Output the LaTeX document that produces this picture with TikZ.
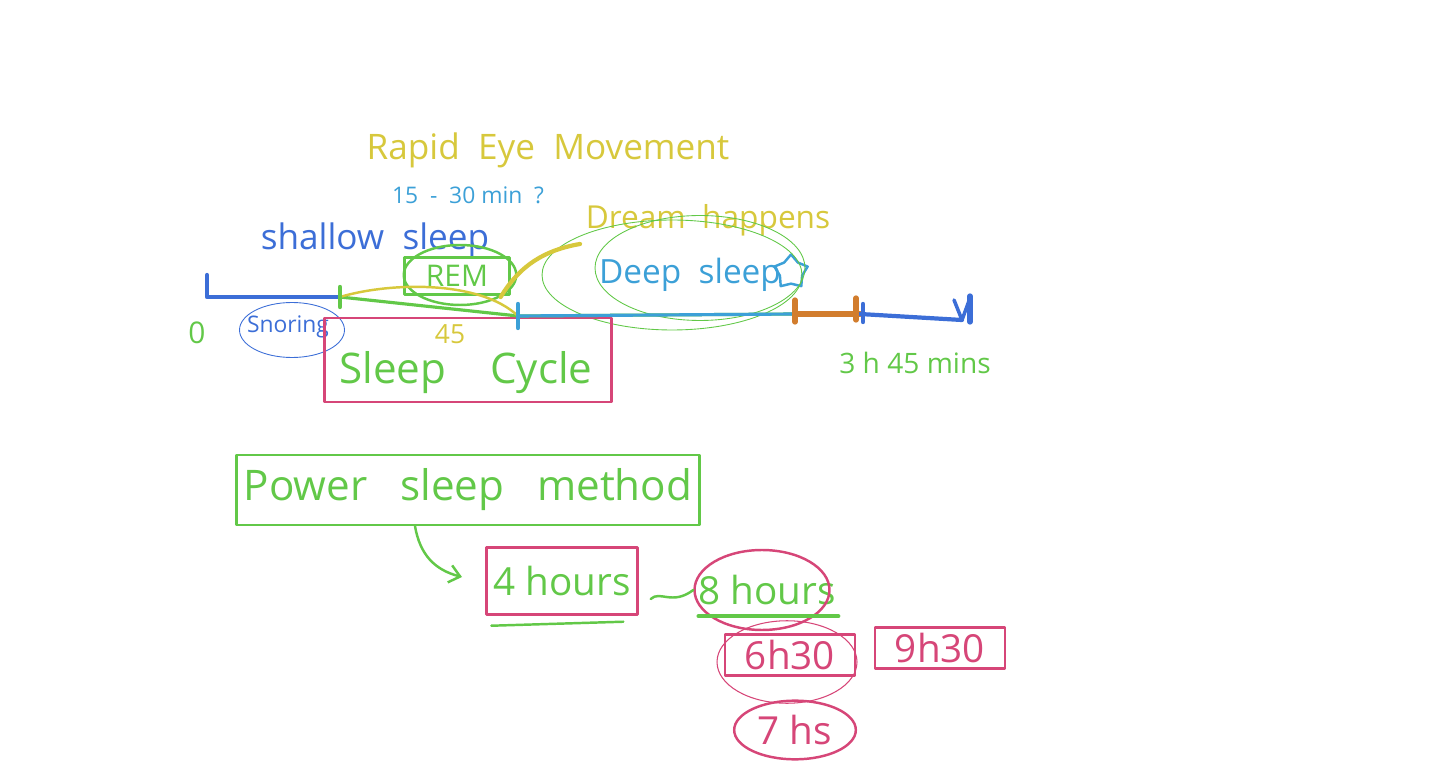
\documentclass[tikz,border=0pt]{standalone}
\usepackage{fontspec}
\setmainfont{Open Sans}
\usepackage{tikz}
\usetikzlibrary{positioning, shapes.geometric, arrows.meta}

\definecolor{penGreen}{RGB}{98,200,72}
\definecolor{penBlue}{RGB}{60,110,215}
\definecolor{penCyan}{RGB}{60,160,215}
\definecolor{penYellow}{RGB}{215,200,60}
\definecolor{penPink}{RGB}{214,70,120}
\definecolor{penOrange}{RGB}{210,125,45}

\newcommand{\pen}[1]{\fontsize{#1}{#1}\selectfont}

\tikzset{
  ink/.style={line width=1.4pt, line cap=round, line join=round},
  box/.style={draw, rectangle, ink},
  ring/.style={draw, ellipse, line width=0.5pt},
}

\begin{document}
\begin{tikzpicture}[x=0.02cm, y=-0.02cm]
            \useasboundingbox (0,0) rectangle (1440,783);

            % points on the time line
            \coordinate (T0) at (207,297);
            \coordinate (T1) at (340,297);
            \coordinate (T2) at (518,316);
            \coordinate (T3) at (795,314);
            \coordinate (T4) at (860,314);
            \coordinate (T5) at (962,320);

            \node (rapid) [text=penYellow] at (548,150) {\pen{20}Rapid\ \ Eye\ \ Movement};
            \node (min) [text=penCyan] at (468,195) {\pen{13}15\ \ -\ \ 30\ min\ \ ?};
            \node (shallow) [text=penBlue] at (375,240) {\pen{20}shallow\ \ sleep};
            \node (dream) [text=penYellow] at (708,220) {\pen{18}Dream\ \ happens};

            \node[box, penGreen, minimum width=2.1cm, minimum height=0.74cm] (rem) at (457,276) {\pen{17}REM};
            \node[draw, ellipse, ink, penGreen, minimum width=2.25cm, minimum height=1.2cm] (remring) at (460,275) {};

            \node (deep) [text=penCyan] at (690,275) {\pen{19}Deep\ \ sleep};
            \node[star, star points=5, draw, ink, penCyan, minimum size=0.7cm, inner sep=0pt] (star) at (791,272) {};
            \node[ring, penGreen, minimum width=5.2cm, minimum height=2.2cm] (deepring) at (672,275) {};
            \node[ring, penGreen, minimum width=4.2cm, minimum height=2.1cm] (deepring2) at (700,268) {};

            \node (zero) [text=penGreen] at (197,333) {\pen{17}0};
            \node (snoring) [text=penBlue] at (288,327) {\pen{13}Snoring};
            \node[ring, penBlue, minimum width=2.1cm, minimum height=1.1cm] (snorering) at (292,330) {};
            \node (fortyfive) [text=penYellow] at (450,334) {\pen{15}45};
            \node (end) [text=penGreen] at (915,363) {\pen{16}3\ h\ 45\ mins};

            \node[box, penPink, minimum width=5.74cm, minimum height=1.68cm] (cycle) at (468,360) {};
            \node (cycletext) [text=penGreen] at (466,373) {\pen{24}Sleep\ \ \ \ Cycle};

            \node[box, penGreen, minimum width=9.26cm, minimum height=1.4cm] (power) at (468,490) {\pen{24}Power\ \ \ sleep\ \ \ method};

            \node[box, penPink, text=penGreen, minimum width=3.02cm, minimum height=1.34cm] (four) at (562,581) {\pen{22}4\ hours};
            \node (eight) [text=penGreen] at (767,590) {\pen{22}8\ hours};
            \node[draw, ellipse, ink, penPink, minimum width=2.7cm, minimum height=1.6cm] (eightring) at (762,590) {};

            \node[box, penPink, minimum width=2.6cm, minimum height=0.8cm] (six) at (790,655) {\pen{22}6h30};
            \node[draw, ellipse, ink, penPink, line width=0.6pt, minimum width=2.8cm, minimum height=1.65cm] (sixring) at (787,662) {};
            \node[box, penPink, minimum width=2.6cm, minimum height=0.8cm] (nine) at (940,648) {\pen{22}9h30};
            \node[draw, ellipse, ink, penPink, minimum width=2.1cm, minimum height=1.1cm] (seven) at (795,730) {\pen{22}7\ hs};

            % the time line
            \draw[ink, penBlue, line width=2.4pt] (T0) ++(0,-22) -- (T0) -- (T1);
            \draw[ink, penGreen, line width=1.8pt] (T1) -- (T2) -- (T3) -- (T4);
            \draw[ink, penCyan, line width=1.8pt, yshift=-1.5pt] (T2) -- (T3);
            \draw[ink, penYellow] (T1) .. controls (390,282) and (480,280) .. (T2);
            \draw[ink, penOrange, line width=3.5pt] (T3) -- (T4);
            \draw[ink, penBlue, line width=2.4pt] (T4) -- (T5);

            \draw[ink, penGreen, line width=2.5pt] (T1) ++(0,-10) -- ++(0,20);
            \draw[ink, penCyan, line width=2.5pt] (T2) ++(0,-12) -- ++(0,24);
            \draw[ink, penOrange, line width=3pt] (T3) ++(0,-14) -- ++(0,22);
            \draw[ink, penOrange, line width=3pt] (T4) ++(-4,-16) -- ++(0,22);
            \draw[ink, penBlue, line width=2.5pt] (T4) ++(3,-10) -- ++(0,18);
            \draw[ink, penBlue, line width=2pt] (T5) -- ++(-8,-20) (T5) -- ++(8,-22);
            \draw[ink, penBlue, line width=3pt] (T5) ++(8,2) -- ++(0,-26);

            % links between the notes
            \draw[penYellow, line width=2.4pt, line cap=round] (remring.south east) .. controls (520,265) and (545,250) .. (580,244);
            \draw[ink, penGreen, -{Straight Barb[length=6pt, width=10pt]}] (power.south -| 415,0) .. controls (420,555) and (435,570) .. (462,577);
            \draw[ink, penGreen] (four.east) ++(12,18) .. controls (660,590) and (672,606) .. (eightring.west);
            \draw[ink, penGreen] (four.south west) ++(6,10) -- ++(132,-4);
            \draw[ink, penGreen, line width=2.2pt] (eightring.south west) ++(-15,-3) -- ++(140,0);

\end{tikzpicture}
\end{document}
